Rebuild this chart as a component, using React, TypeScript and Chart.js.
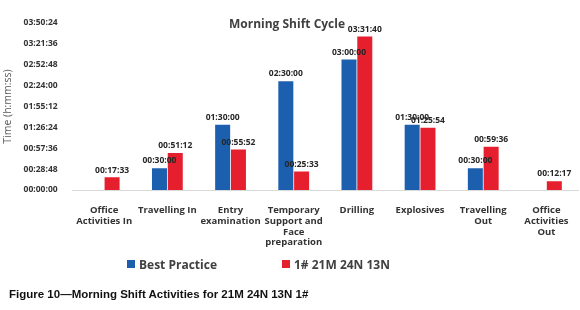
import React, { useEffect, useRef } from "react";
import { Chart, registerables } from "chart.js";

Chart.register(...registerables);

const categories: (string | string[])[] = [
  ["Office", "Activities In"],
  "Travelling In",
  ["Entry", "examination"],
  ["Temporary", "Support and", "Face", "preparation"],
  "Drilling",
  "Explosives",
  ["Travelling", "Out"],
  ["Office", "Activities", "Out"],
];

const bestPractice: (string | null)[] = [
  null, "00:30:00", "01:30:00", "02:30:00", "03:00:00", "01:30:00", "00:30:00", null,
];

const actual: (string | null)[] = [
  "00:17:33", "00:51:12", "00:55:52", "00:25:33", "03:31:40", "01:25:54", "00:59:36", "00:12:17",
];

const seriesNames = ["Best Practice", "1# 21M 24N 13N"];
const seriesColors = ["#1c5fae", "#e51f2d"];

const yMaxLabel = "03:50:24";
const yStepLabel = "00:28:48";

const toSec = (s: string | null) => {
  if (s == null) return null;
  const [h, m, sec] = s.split(":").map(Number);
  return h * 3600 + m * 60 + sec;
};
const fmt = (v: number) => {
  const h = Math.floor(v / 3600);
  const m = Math.floor((v % 3600) / 60);
  const s = Math.round(v % 60);
  const p = (n: number) => String(n).padStart(2, "0");
  return `${p(h)}:${p(m)}:${p(s)}`;
};

const FONT = "'Open Sans', 'DejaVu Sans', sans-serif";

const labelPlugin = {
  id: "barLabels",
  afterDatasetsDraw(chart: any) {
    const ctx = chart.ctx;
    ctx.save();
    ctx.font = `bold 8.5px ${FONT}`;
    ctx.fillStyle = "#262626";
    ctx.textAlign = "center";
    ctx.textBaseline = "bottom";
    chart.data.datasets.forEach((ds: any, di: number) => {
      const meta = chart.getDatasetMeta(di);
      meta.data.forEach((el: any, i: number) => {
        const v = ds.data[i];
        if (v == null) return;
        ctx.fillText(fmt(v), el.x, el.y - 3);
      });
    });
    ctx.restore();
  },
};

const titlePlugin = {
  id: "floatTitle",
  afterDraw(chart: any) {
    const ctx = chart.ctx;
    ctx.save();
    ctx.font = `bold 12px ${FONT}`;
    ctx.fillStyle = "#404040";
    ctx.textAlign = "center";
    ctx.textBaseline = "middle";
    ctx.fillText("Morning Shift Cycle", 287, 25);
    ctx.restore();
  },
};

export default function App() {
  const ref = useRef<HTMLCanvasElement>(null);
  useEffect(() => {
    document.body.style.margin = "0";
    const chart = new Chart(ref.current!, {
      type: "bar",
      data: {
        labels: categories,
        datasets: [
          {
            label: seriesNames[0],
            data: bestPractice.map(toSec),
            backgroundColor: seriesColors[0],
            categoryPercentage: 0.5,
            barPercentage: 0.95,
          },
          {
            label: seriesNames[1],
            data: actual.map(toSec),
            backgroundColor: seriesColors[1],
            categoryPercentage: 0.5,
            barPercentage: 0.95,
          },
        ],
      },
      options: {
        responsive: false,
        animation: false,
        layout: { padding: { left: 2, right: 2, top: 23, bottom: 2 } },
        plugins: {
          legend: { display: false },
          tooltip: { enabled: false },
          title: { display: false },
        },
        scales: {
          x: {
            grid: { display: false },
            border: { color: "#d9d9d9", width: 1 },
            ticks: {
              font: { family: FONT, size: 9.5, weight: "bold", lineHeight: 1.13 },
              color: "#333333",
              maxRotation: 0,
              autoSkip: false,
              padding: 7,
            },
          },
          y: {
            min: 0,
            max: toSec(yMaxLabel)!,
            grid: { display: false },
            border: { display: false },
            ticks: {
              stepSize: toSec(yStepLabel)!,
              callback: (v: any) => fmt(Number(v)),
              font: { family: FONT, size: 8.5, weight: "bold" },
              color: "#333333",
              padding: 7,
            },
            title: {
              display: true,
              text: "Time (h:mm:ss)",
              font: { family: FONT, size: 10.5 },
              color: "#595959",
              padding: { top: 0, bottom: 2 },
            },
          },
        },
      },
      plugins: [labelPlugin, titlePlugin],
    });
    return () => chart.destroy();
  }, []);

  const legendItem = (i: number, left: number) => (
    <div
      style={{
        position: "absolute",
        left,
        top: 0,
        display: "flex",
        alignItems: "center",
        whiteSpace: "nowrap",
        height: 16,
      }}
    >
      <span
        style={{
          display: "inline-block",
          width: 8,
          height: 8,
          background: seriesColors[i],
          marginRight: 4,
        }}
      />
      <span>{seriesNames[i]}</span>
    </div>
  );

  return (
    <div style={{ position: "relative", width: 580, height: 310, background: "#fff", overflow: "hidden" }}>
      <canvas ref={ref} width={580} height={257} style={{ position: "absolute", left: 0, top: 0 }} />
      <div
        style={{
          position: "absolute",
          left: 0,
          top: 256,
          width: 580,
          height: 16,
          fontFamily: FONT,
          fontWeight: "bold",
          fontSize: 12,
          color: "#404040",
        }}
      >
        {legendItem(0, 127)}
        {legendItem(1, 282)}
      </div>
      <div
        style={{
          position: "absolute",
          left: 9,
          top: 288,
          fontFamily: "'Liberation Sans', Arial, sans-serif",
          fontWeight: "bold",
          fontSize: 11.5,
          color: "#111",
          whiteSpace: "nowrap",
        }}
      >
        Figure 10—Morning Shift Activities for 21M 24N 13N 1#
      </div>
    </div>
  );
}
